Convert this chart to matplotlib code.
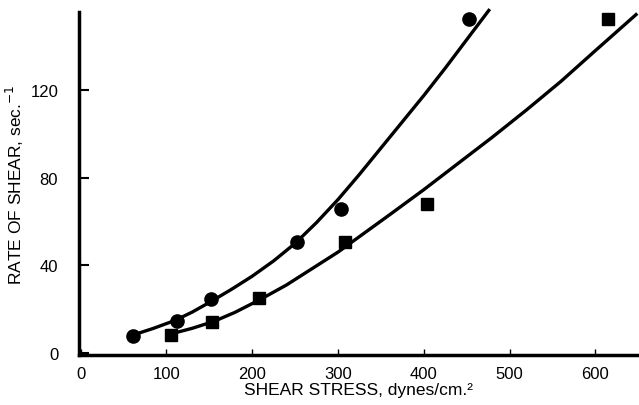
import matplotlib
matplotlib.use('Agg')
import matplotlib.pyplot as plt

# Data points
circle_x = [61, 112, 152, 252, 303, 453]
circle_y = [7.8, 14.6, 24.8, 50.8, 65.5, 152.5]
square_x = [105, 153, 208, 308, 404, 615]
square_y = [8.2, 14.2, 25.2, 50.8, 68.0, 152.5]

# Drawn fit curves
circle_curve_x = [60, 85, 110, 130, 150, 175, 200, 225, 250, 275, 300,
                  325, 350, 375, 400, 425, 450, 477]
circle_curve_y = [8.0, 11.2, 14.8, 18.6, 23.0, 28.8, 35.0, 42.0, 50.0, 59.5, 70.0,
                  81.5, 93.5, 105.5, 117.5, 130.0, 143.0, 157.0]
square_curve_x = [104, 130, 155, 180, 210, 240, 270, 300, 330, 360, 400,
                  440, 480, 520, 560, 600, 649]
square_curve_y = [8.5, 11.2, 14.3, 18.5, 24.5, 31.0, 38.5, 46.0, 54.5, 63.0, 74.5,
                  86.5, 98.5, 111.0, 124.0, 138.0, 155.0]

x_ticks = [0, 100, 200, 300, 400, 500, 600]
y_ticks = [0, 40, 80, 120]

plt.rcParams['font.family'] = ['Liberation Sans', 'DejaVu Sans']

fig = plt.figure(figsize=(6.39, 4.06), dpi=100)
ax = fig.add_axes([79 / 639, 50 / 406, 560 / 639, 342.6 / 406])

# Curves
ax.plot(circle_curve_x, circle_curve_y, color='black', lw=2.4, clip_on=False,
        solid_capstyle='butt', solid_joinstyle='round')
ax.plot(square_curve_x, square_curve_y, color='black', lw=2.4, clip_on=False,
        solid_capstyle='butt', solid_joinstyle='round')

# Markers
ax.plot(circle_x, circle_y, 'o', color='black', ms=9.5, clip_on=False)
ax.plot(square_x, square_y, 's', color='black', ms=8.5, clip_on=False)

ax.set_xlim(-2, 651)
ax.set_ylim(-1, 155.5)

ax.spines['top'].set_visible(False)
ax.spines['right'].set_visible(False)
ax.spines['left'].set_linewidth(2.5)
ax.spines['bottom'].set_linewidth(2.5)

ax.set_xticks(x_ticks)
ax.set_yticks(y_ticks)
ax.tick_params(axis='y', direction='in', length=7, width=1.5, pad=15, labelsize=12)
ax.tick_params(axis='x', direction='in', length=4, width=1.0, pad=8, labelsize=12)

ax.set_xlabel('SHEAR STRESS, dynes/cm.\u00b2', fontsize=12.5, labelpad=1)
ax.set_ylabel('RATE OF SHEAR, sec.$^{-1}$', fontsize=12.5, labelpad=3)

fig.savefig('out.png', dpi=100)
